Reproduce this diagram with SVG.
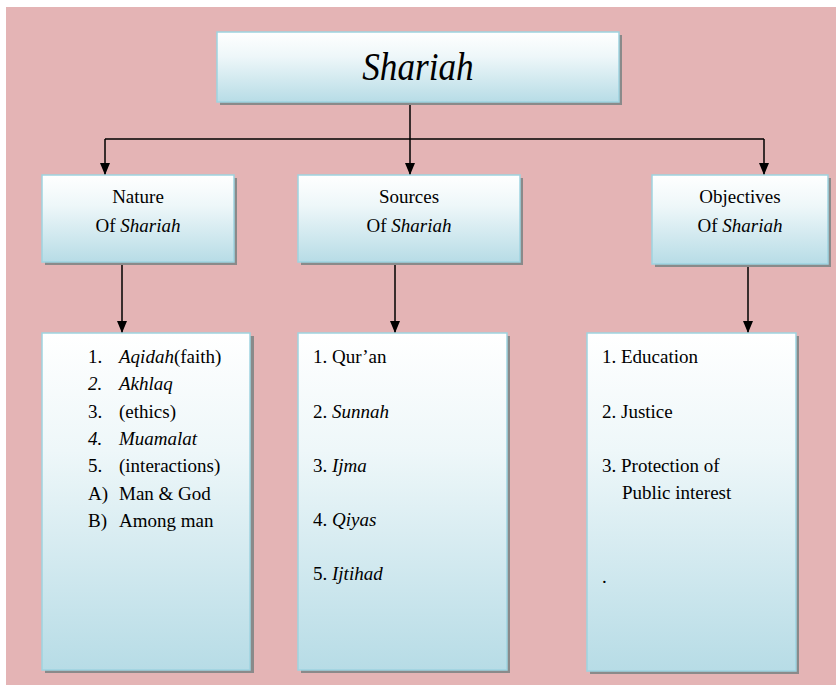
<svg xmlns="http://www.w3.org/2000/svg" width="836" height="685" viewBox="0 0 836 685">
<defs>
<linearGradient id="g" x1="0" y1="0" x2="0" y2="1">
<stop offset="0" stop-color="#ffffff"/>
<stop offset="0.35" stop-color="#eef7f9"/>
<stop offset="1" stop-color="#b7dce6"/>
</linearGradient>
<marker id="ah" markerWidth="12" markerHeight="10" refX="12" refY="5" orient="auto" markerUnits="userSpaceOnUse" viewBox="0 0 12 10">
<path d="M0,0 L12,5 L0,10 Z" fill="#000"/>
</marker>
</defs>
<rect x="6" y="7" width="830" height="678" fill="#e4b4b5"/>
<g id="connectors" stroke="#000" stroke-width="1.5" fill="none">
<line x1="410" y1="102" x2="410" y2="139"/>
<line x1="105" y1="139" x2="764" y2="139"/>
<line x1="105" y1="139" x2="105" y2="175" marker-end="url(#ah)"/>
<line x1="410" y1="139" x2="410" y2="175" marker-end="url(#ah)"/>
<line x1="764" y1="139" x2="764" y2="175" marker-end="url(#ah)"/>
<line x1="122" y1="262" x2="122" y2="333" marker-end="url(#ah)"/>
<line x1="395" y1="262" x2="395" y2="333" marker-end="url(#ah)"/>
<line x1="748" y1="264" x2="748" y2="333" marker-end="url(#ah)"/>
</g>
<g id="shariah">
<rect x="220" y="35" width="402" height="70" fill="#8a8a8a"/>
<rect x="217" y="32" width="402" height="70" fill="url(#g)" stroke="#9ed3e0" stroke-width="1.5"/>
<text font-family="serif" font-style="italic" font-size="40" text-anchor="middle" x="418" y="80" transform="translate(418 0) scale(0.88 1) translate(-418 0)">Shariah</text>
</g>
<g id="nature">
<rect x="45" y="178" width="192" height="87" fill="#8a8a8a"/>
<rect x="42" y="175" width="192" height="87" fill="url(#g)" stroke="#9ed3e0" stroke-width="1.5"/>
<text font-family="serif" font-size="19" text-anchor="middle" x="138" y="203">Nature</text>
<text font-family="serif" font-size="19" text-anchor="middle" x="138" y="232">Of <tspan font-style="italic">Shariah</tspan></text>
</g>
<g id="sources">
<rect x="301" y="178" width="222" height="87" fill="#8a8a8a"/>
<rect x="298" y="175" width="222" height="87" fill="url(#g)" stroke="#9ed3e0" stroke-width="1.5"/>
<text font-family="serif" font-size="19" text-anchor="middle" x="409" y="203">Sources</text>
<text font-family="serif" font-size="19" text-anchor="middle" x="409" y="232">Of <tspan font-style="italic">Shariah</tspan></text>
</g>
<g id="objectives">
<rect x="655" y="178" width="176" height="89" fill="#8a8a8a"/>
<rect x="652" y="175" width="176" height="89" fill="url(#g)" stroke="#9ed3e0" stroke-width="1.5"/>
<text font-family="serif" font-size="19" text-anchor="middle" x="740" y="203">Objectives</text>
<text font-family="serif" font-size="19" text-anchor="middle" x="740" y="232">Of <tspan font-style="italic">Shariah</tspan></text>
</g>
<g id="nature-list">
<rect x="45" y="336" width="209" height="337" fill="#8a8a8a"/>
<rect x="42" y="333" width="208" height="337" fill="url(#g)" stroke="#9ed3e0" stroke-width="1.5"/>
<text font-family="serif" font-size="19" x="88" y="363">1.</text>
<text font-family="serif" font-size="19" x="119" y="363"><tspan font-style="italic">Aqidah</tspan>(faith)</text>
<text font-family="serif" font-size="19" font-style="italic" x="88" y="390">2.</text>
<text font-family="serif" font-size="19" font-style="italic" x="119" y="390">Akhlaq</text>
<text font-family="serif" font-size="19" x="88" y="418">3.</text>
<text font-family="serif" font-size="19" x="119" y="418">(ethics)</text>
<text font-family="serif" font-size="19" font-style="italic" x="88" y="445">4.</text>
<text font-family="serif" font-size="19" font-style="italic" x="119" y="445">Muamalat</text>
<text font-family="serif" font-size="19" x="88" y="472">5.</text>
<text font-family="serif" font-size="19" x="119" y="472">(interactions)</text>
<text font-family="serif" font-size="19" x="88" y="500">A)</text>
<text font-family="serif" font-size="19" x="119" y="500">Man &amp; God</text>
<text font-family="serif" font-size="19" x="88" y="527">B)</text>
<text font-family="serif" font-size="19" x="119" y="527">Among man</text>
</g>
<g id="sources-list">
<rect x="301" y="336" width="209" height="337" fill="#8a8a8a"/>
<rect x="298" y="333" width="209" height="337" fill="url(#g)" stroke="#9ed3e0" stroke-width="1.5"/>
<text font-family="serif" font-size="19" x="313" y="363">1. Qur&#8217;an</text>
<text font-family="serif" font-size="19" x="313" y="418">2. <tspan font-style="italic">Sunnah</tspan></text>
<text font-family="serif" font-size="19" x="313" y="472">3. <tspan font-style="italic">Ijma</tspan></text>
<text font-family="serif" font-size="19" x="313" y="526">4. <tspan font-style="italic">Qiyas</tspan></text>
<text font-family="serif" font-size="19" x="313" y="580">5. <tspan font-style="italic">Ijtihad</tspan></text>
</g>
<g id="objectives-list">
<rect x="590" y="336" width="209" height="338" fill="#8a8a8a"/>
<rect x="587" y="333" width="209" height="338" fill="url(#g)" stroke="#9ed3e0" stroke-width="1.5"/>
<text font-family="serif" font-size="19" x="602" y="363">1. Education</text>
<text font-family="serif" font-size="19" x="602" y="418">2. Justice</text>
<text font-family="serif" font-size="19" x="602" y="472">3. Protection of</text>
<text font-family="serif" font-size="19" x="622" y="499">Public interest</text>
<text font-family="serif" font-size="19" x="602" y="583">.</text>
</g>
</svg>
